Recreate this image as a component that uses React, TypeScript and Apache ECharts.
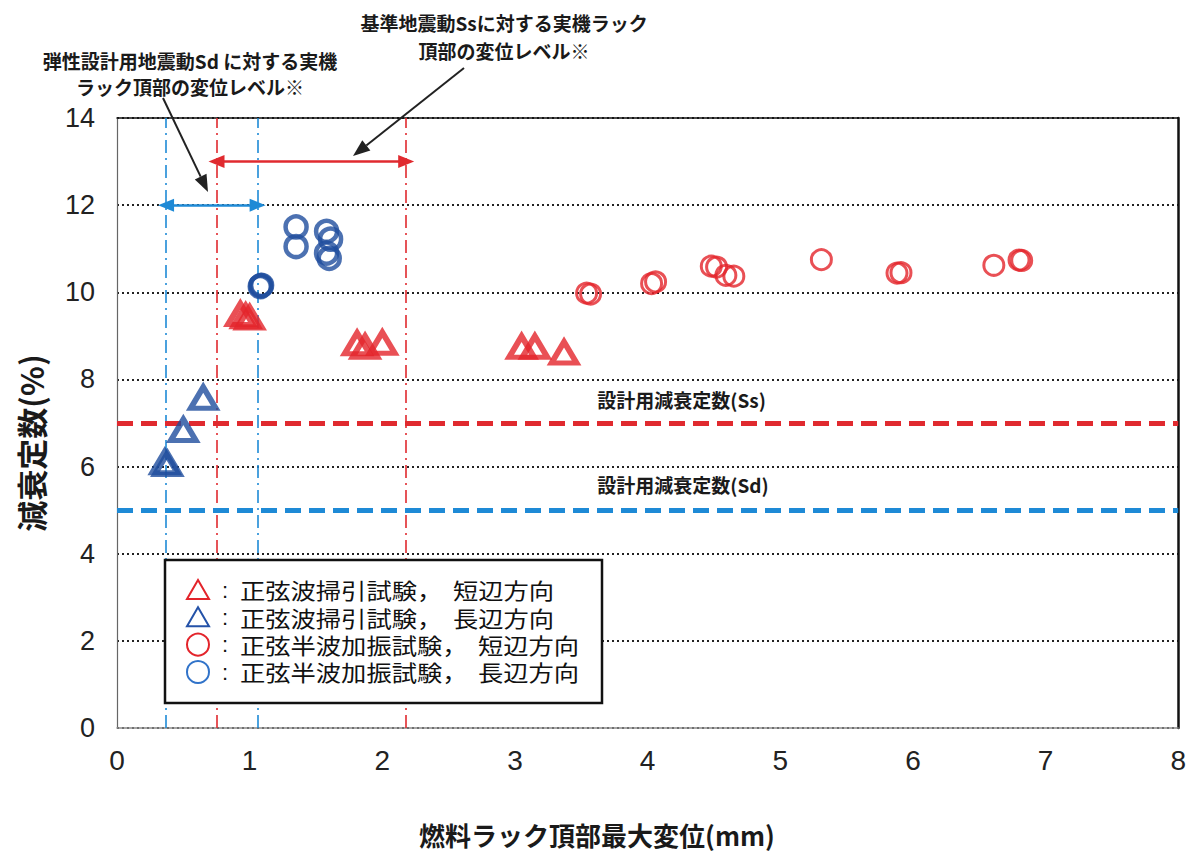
import React, { useEffect, useRef } from "react";
import * as echarts from "echarts";

// Axis ranges and ticks
const xMin = 0;
const xMax = 8;
const yMin = 0;
const yMax = 14;
const tickStep = 2;

// 正弦波掃引試験 (sine sweep), 短辺方向 / 長辺方向  [displacement mm, damping %]
const sweepShort: [number, number][] = [
  [0.93, 9.5], [0.97, 9.45], [1.0, 9.42],
  [1.81, 8.83], [1.87, 8.75], [2.0, 8.84],
  [3.05, 8.75], [3.15, 8.75], [3.37, 8.62],
];
const sweepLong: [number, number][] = [
  [0.36, 6.1], [0.38, 6.06], [0.5, 6.84], [0.65, 7.58],
];

// 正弦半波加振試験 (half-sine excitation), 短辺方向 / 長辺方向
const halfShort: [number, number][] = [
  [3.54, 9.98], [3.57, 9.96], [4.03, 10.2], [4.06, 10.24],
  [4.48, 10.6], [4.52, 10.58], [4.59, 10.39], [4.65, 10.37],
  [5.31, 10.75], [5.88, 10.44], [5.91, 10.45], [6.61, 10.62],
  [6.8, 10.74], [6.82, 10.73],
];
const halfLong: [number, number][] = [
  [1.35, 11.5], [1.35, 11.05], [1.58, 11.4], [1.61, 11.22],
  [1.58, 10.9], [1.6, 10.78], [1.08, 10.13], [1.09, 10.16], [1.085, 10.15],
];

// Displacement ranges of the actual racks (Sd / Ss) and the arrow heights
const sdRange: [number, number] = [0.37, 1.06];
const ssRange: [number, number] = [0.75, 2.18];
const sdArrowY = 12.0;
const ssArrowY = 13.0;

// Design damping constants
const designSs = 7.0;
const designSd = 5.0;

const legendRows = [
  { shape: "triangle", color: "#e3242b", test: "正弦波掃引試験，", dir: "短辺方向" },
  { shape: "triangle", color: "#2452a8", test: "正弦波掃引試験，", dir: "長辺方向" },
  { shape: "circle", color: "#e3242b", test: "正弦半波加振試験，", dir: "短辺方向" },
  { shape: "circle", color: "#3173c9", test: "正弦半波加振試験，", dir: "長辺方向" },
];

const RED = "#e3242b";
const NAVY = "#1f4e9e";
const LINE_RED = "#e02a2f";
const LINE_BLUE = "#1e8ad6";
const CJK = "'Noto Sans CJK JP', 'Noto Sans', sans-serif";
const LATIN = "'Liberation Sans', Arial, sans-serif";
const NARROW = "'Liberation Sans Narrow', 'Liberation Sans', Arial, sans-serif";

function arrowGraphic(x1: number, y1: number, x2: number, y2: number) {
  const dx = x2 - x1;
  const dy = y2 - y1;
  const len = Math.hypot(dx, dy);
  const ux = dx / len;
  const uy = dy / len;
  const headLen = 17;
  const headHalf = 6.5;
  const bx = x2 - ux * headLen;
  const by = y2 - uy * headLen;
  return [
    {
      type: "line",
      shape: { x1, y1, x2: bx, y2: by },
      style: { stroke: "#222", lineWidth: 2 },
      z: 20,
    },
    {
      type: "polygon",
      shape: {
        points: [
          [x2, y2],
          [bx - uy * headHalf, by + ux * headHalf],
          [bx + uy * headHalf, by - ux * headHalf],
        ],
      },
      style: { fill: "#222" },
      z: 20,
    },
  ];
}

export default function App() {
  const ref = useRef<HTMLDivElement>(null);

  useEffect(() => {
    const chart = echarts.init(ref.current!, null, { renderer: "svg" });

    const vLine = (x: number, color: string) => ({
      xAxis: x,
      lineStyle: { color, width: 1.6, type: [13, 5, 2, 5] },
    });
    const hArrow = (range: [number, number], y: number, color: string) => [
      { coord: [range[0], y], symbol: "triangle", lineStyle: { color, width: 2.5, type: "solid" } },
      { coord: [range[1], y], symbol: "triangle" },
    ];

    const option: any = {
      animation: false,
      backgroundColor: "#ffffff",
      grid: { left: 117, right: 10, top: 118, bottom: 123 },
      xAxis: [
        {
          type: "value",
          min: xMin,
          max: xMax,
          interval: 1,
          axisLine: { show: true, lineStyle: { color: "#8a8a8a", width: 1.5 } },
          axisTick: { show: false },
          splitLine: { show: false },
          axisLabel: { fontFamily: NARROW, fontSize: 28, color: "#222", margin: 18 },
        },
        {
          type: "value",
          position: "top",
          min: xMin,
          max: xMax,
          axisLine: { show: true, onZero: false, lineStyle: { color: "#111", width: 1.5 } },
          axisTick: { show: false },
          axisLabel: { show: false },
          splitLine: { show: false },
        },
      ],
      yAxis: [
        {
          type: "value",
          min: yMin,
          max: yMax,
          interval: tickStep,
          axisLine: { show: true, lineStyle: { color: "#666", width: 1.2 } },
          axisTick: { show: false },
          splitLine: { show: true, lineStyle: { color: "#222", width: 2, type: [2, 3] } },
          axisLabel: { fontFamily: LATIN, fontSize: 27, color: "#222", margin: 22 },
        },
        {
          type: "value",
          position: "right",
          min: yMin,
          max: yMax,
          axisLine: { show: true, onZero: false, lineStyle: { color: "#111", width: 2.5 } },
          axisTick: { show: false },
          axisLabel: { show: false },
          splitLine: { show: false },
        },
      ],
      series: [
        {
          name: "refs",
          type: "scatter",
          data: [],
          silent: true,
          z: 1,
          markLine: {
            silent: true,
            symbol: "none",
            symbolSize: [13, 16],
            label: { show: false },
            emphasis: { disabled: true },
            data: [
              vLine(sdRange[0], LINE_BLUE),
              vLine(sdRange[1], LINE_BLUE),
              vLine(ssRange[0], LINE_RED),
              vLine(ssRange[1], LINE_RED),
              { yAxis: designSs, lineStyle: { color: LINE_RED, width: 5, type: [16, 8] } },
              { yAxis: designSd, lineStyle: { color: LINE_BLUE, width: 5, type: [16, 8] } },
              hArrow(sdRange, sdArrowY, LINE_BLUE),
              hArrow(ssRange, ssArrowY, LINE_RED),
            ],
          },
        },
        {
          name: "正弦波掃引試験，短辺方向",
          type: "scatter",
          data: sweepShort,
          symbol: "triangle",
          symbolSize: [25, 21],
          itemStyle: { color: "rgba(0,0,0,0)", borderColor: RED, borderWidth: 5.5 },
          z: 5,
        },
        {
          name: "正弦波掃引試験，長辺方向",
          type: "scatter",
          data: sweepLong,
          symbol: "triangle",
          symbolSize: [25, 21],
          itemStyle: { color: "rgba(0,0,0,0)", borderColor: NAVY, borderWidth: 5.5 },
          z: 5,
        },
        {
          name: "正弦半波加振試験，短辺方向",
          type: "scatter",
          data: halfShort,
          symbol: "circle",
          symbolSize: 20,
          itemStyle: { color: "rgba(0,0,0,0)", borderColor: RED, borderWidth: 3 },
          z: 5,
        },
        {
          name: "正弦半波加振試験，長辺方向",
          type: "scatter",
          data: halfLong,
          symbol: "circle",
          symbolSize: 21,
          itemStyle: { color: "rgba(0,0,0,0)", borderColor: NAVY, borderWidth: 4.5 },
          z: 5,
        },
      ],
    };

    chart.setOption(option);

    const toPx = (p: [number, number]) =>
      chart.convertToPixel({ xAxisIndex: 0, yAxisIndex: 0 }, p) as number[];
    const ssLabel = toPx([3.62, designSs + 0.53]);
    const sdLabel = toPx([3.62, designSd + 0.6]);

    // Legend box with one row per series; the Japanese text is slightly widened
    const legendX = 165;
    const legendY = 560;
    const rowYs = [590, 617.3, 644.6, 672];
    const legendText = (text: string, x: number, y: number, family: string, sx = 1.15) => ({
      type: "text",
      x,
      y,
      scaleX: sx,
      style: {
        text,
        font: `22px ${family}`,
        fill: "#111",
        textAlign: "left",
        textVerticalAlign: "middle",
      },
      z: 31,
    });
    const legendGraphics: any[] = [
      {
        type: "rect",
        shape: { x: legendX, y: legendY, width: 437, height: 143 },
        style: { fill: "#ffffff", stroke: "#111", lineWidth: 2.5 },
        z: 30,
      },
    ];
    legendRows.forEach((row, i) => {
      const cy = rowYs[i];
      const cx = 198;
      if (row.shape === "triangle") {
        legendGraphics.push({
          type: "polygon",
          shape: { points: [[cx - 11, cy + 9], [cx + 11, cy + 9], [cx, cy - 10]] },
          style: { fill: "none", stroke: row.color, lineWidth: 2 },
          z: 31,
        });
      } else {
        legendGraphics.push({
          type: "circle",
          shape: { cx, cy, r: 11 },
          style: { fill: "none", stroke: row.color, lineWidth: 2 },
          z: 31,
        });
      }
      legendGraphics.push(legendText(":", 222, cy, LATIN, 1));
      legendGraphics.push(legendText(row.test, 240, cy, CJK));
      legendGraphics.push(legendText(row.dir, row.shape === "triangle" ? 453 : 478, cy, CJK));
    });

    const bold = (size: number) => `bold ${size}px ${CJK}`;
    const textEl = (text: string, x: number, y: number, size: number, align = "center", extra: any = {}) => ({
      type: "text",
      x,
      y,
      ...extra,
      style: {
        text,
        font: bold(size),
        fill: "#1a1a1a",
        textAlign: align,
        textVerticalAlign: "middle",
      },
      z: 25,
    });

    chart.setOption({
      graphic: [
        textEl("基準地震動Ssに対する実機ラック", 504, 22, 19),
        textEl("頂部の変位レベル※", 504, 50, 19),
        textEl("弾性設計用地震動Sd に対する実機", 190, 60, 19),
        textEl("ラック頂部の変位レベル※", 190, 86, 19),
        ...arrowGraphic(163, 98, 208, 192),
        ...arrowGraphic(464, 68, 353, 156),
        textEl("設計用減衰定数(Ss)", ssLabel[0], ssLabel[1], 19, "left"),
        textEl("設計用減衰定数(Sd)", sdLabel[0], sdLabel[1], 19, "left"),
        textEl("減衰定数(%)", 30, 443, 31, "center", { rotation: Math.PI / 2 }),
        textEl("燃料ラック頂部最大変位(mm)", 597, 834, 26),
        ...legendGraphics,
      ],
    });

    return () => chart.dispose();
  }, []);

  return (
    <div
      ref={ref}
      style={{ position: "fixed", left: 0, top: 0, width: 1189, height: 851, background: "#fff" }}
    />
  );
}
